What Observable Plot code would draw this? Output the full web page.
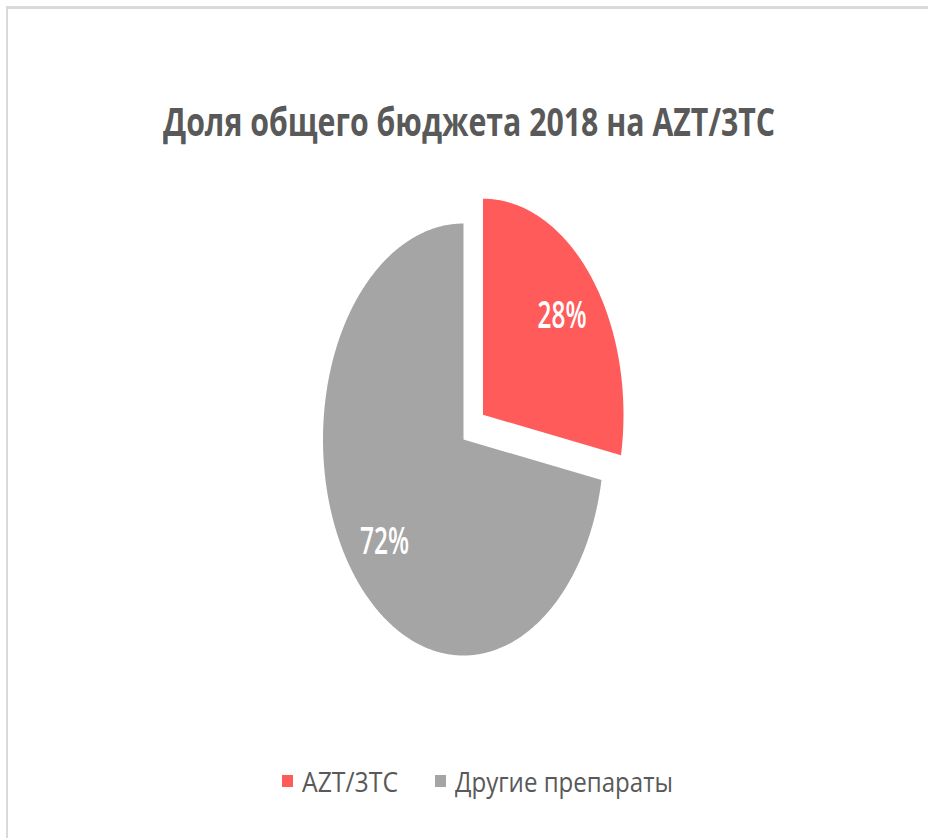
<!DOCTYPE html>
<html>
<head>
<meta charset="utf-8">
<script src="https://cdn.jsdelivr.net/npm/d3@7"></script>
<script src="https://cdn.jsdelivr.net/npm/@observablehq/plot@0.6"></script>
<style>
  html, body { margin: 0; padding: 0; background: #fff; overflow: hidden; }
  #wrap { position: relative; width: 928px; height: 838px; overflow: hidden; }
  #frame { position: absolute; left: 6px; top: 6px; width: 1000px; height: 1000px;
           border-top: 3px solid #d9d9d9; border-left: 2px solid #d9d9d9; box-sizing: border-box; }
  #title { position: absolute; left: 163px; top: 101px; white-space: nowrap;
           font-family: "Open Sans", "DejaVu Sans", sans-serif; font-weight: 700;
           font-size: 40px; line-height: 40px; color: #595959; transform-origin: left center; }
  #chart { position: absolute; left: 0; top: 190px; }
  #legend { position: absolute; left: 282px; top: 763px; display: flex; align-items: center;
            white-space: nowrap; font-family: "Open Sans", "DejaVu Sans", sans-serif;
            font-size: 28px; line-height: 36px; color: #595959; }
  .sw { display: inline-block; width: 11px; height: 12px; }
  .lt { display: inline-block; transform-origin: left center; }
</style>
</head>
<body>
<div id="wrap">
  <div id="frame"></div>
  <div id="title">Доля общего бюджета 2018 на AZT/3TC</div>
  <div id="chart"></div>
  <div id="legend"></div>
</div>
<script>
// ---- data ----
const categories = ["AZT/3TC", "Другие препараты"];
const shares = [28, 72];
const sliceLabels = ["28%", "72%"];
const colors = ["#ff5b5b", "#a5a5a5"];
const exploded = [0.18, 0];   // explode distance (fraction of radius)

// ---- build slice outlines from the shares ----
const total = d3.sum(shares);
const slicePoints = [];
const labelRows = [];
let acc = 0;
shares.forEach((v, i) => {
  const a0 = acc / total * 2 * Math.PI;
  acc += v;
  const a1 = acc / total * 2 * Math.PI;
  const mid = (a0 + a1) / 2;
  const ox = exploded[i] * Math.sin(mid), oy = exploded[i] * Math.cos(mid);
  slicePoints.push({cat: categories[i], x: ox, y: oy});
  const steps = Math.max(2, Math.ceil((a1 - a0) / (Math.PI / 360)));
  for (let k = 0; k <= steps; k++) {
    const t = a0 + (a1 - a0) * k / steps;
    slicePoints.push({cat: categories[i], x: ox + Math.sin(t), y: oy + Math.cos(t)});
  }
  slicePoints.push({cat: categories[i], x: ox, y: oy});
  labelRows.push({text: sliceLabels[i], x: ox + 0.73 * Math.sin(mid), y: oy + 0.73 * Math.cos(mid)});
});

const cx = 463, cy = 249, rx = 140.5, ry = 216;
const chart = Plot.plot({
  width: 928,
  height: 500,
  margin: 0,
  x: {domain: [-1, 1], range: [cx - rx, cx + rx], axis: null},
  y: {domain: [-1, 1], range: [cy + ry, cy - ry], axis: null},
  color: {domain: categories, range: colors},
  marks: [
    Plot.line(slicePoints, {x: "x", y: "y", z: "cat", fill: "cat", stroke: "none", curve: "linear"}),
    Plot.text(labelRows, {x: "x", y: "y", text: "text", fill: "white", fontSize: 38,
      fontFamily: "'Open Sans', 'DejaVu Sans', sans-serif", fontWeight: 600, dy: 2})
  ]
});
chart.style.background = "transparent";
document.getElementById("chart").appendChild(chart);
chart.querySelectorAll("text").forEach(t => {
  if (sliceLabels.includes(t.textContent)) {
    t.setAttribute("textLength", 49);
    t.setAttribute("lengthAdjust", "spacingAndGlyphs");
  }
});

// ---- legend ----
const legend = document.getElementById("legend");
const legendTextWidths = [96, 218];
categories.forEach((c, i) => {
  const sw = document.createElement("span");
  sw.className = "sw";
  sw.style.background = colors[i];
  sw.style.marginRight = "9px";
  legend.appendChild(sw);
  const lt = document.createElement("span");
  lt.className = "lt";
  lt.textContent = c;
  legend.appendChild(lt);
  const w = lt.getBoundingClientRect().width;
  lt.style.transform = `scaleX(${legendTextWidths[i] / w})`;
  lt.style.marginRight = (legendTextWidths[i] - w + (i === 0 ? 37 : 0)) + "px";
});

// ---- title fit ----
const title = document.getElementById("title");
const tw = title.getBoundingClientRect().width;
title.style.transform = `scaleX(${612 / tw})`;
</script>
</body>
</html>
